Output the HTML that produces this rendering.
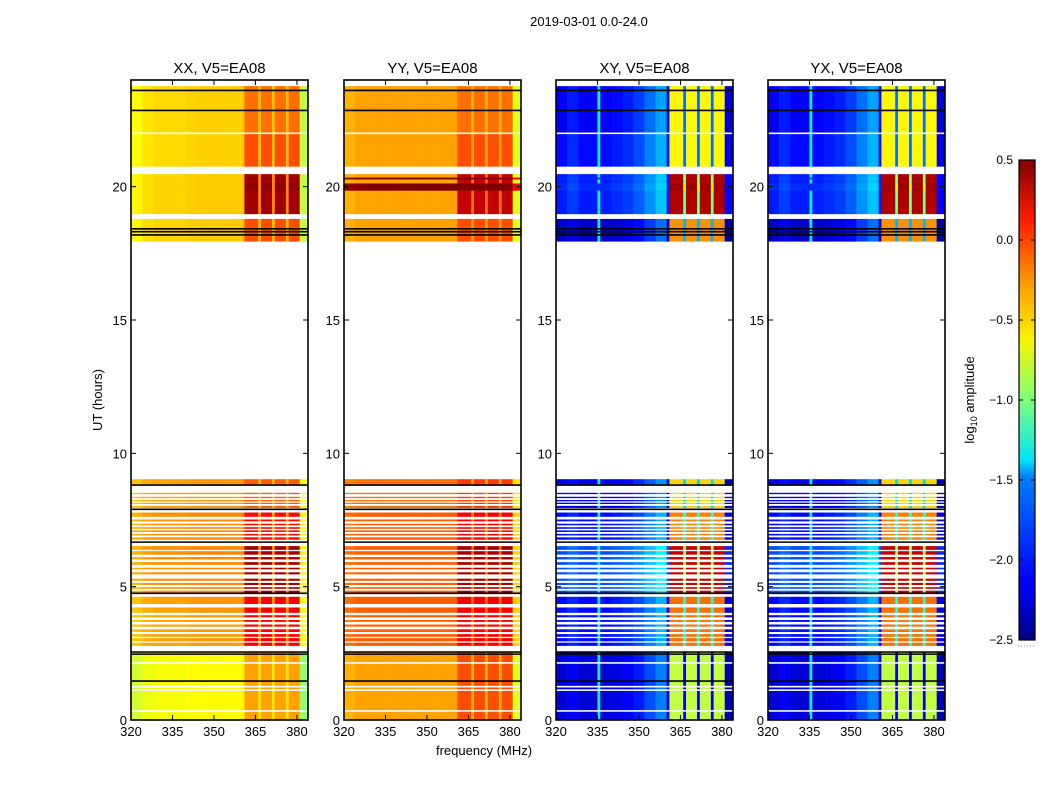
<!DOCTYPE html>
<html><head><meta charset="utf-8"><style>
body{margin:0;background:#fff;width:1050px;height:800px;overflow:hidden;font-family:"Liberation Sans",sans-serif;}
svg text{font-family:"Liberation Sans",sans-serif;fill:#000;}
</style></head><body>
<svg id="fig" width="1050" height="800" viewBox="0 0 1050 800">
<defs>
<linearGradient id="jetg" x1="0" y1="1" x2="0" y2="0">
<stop offset="0" stop-color="#000080"/><stop offset="0.11" stop-color="#0000ff"/><stop offset="0.125" stop-color="#0000ff"/>
<stop offset="0.34" stop-color="#0080ff"/><stop offset="0.375" stop-color="#00e4f8"/><stop offset="0.5" stop-color="#7dff7a"/>
<stop offset="0.625" stop-color="#f8f500"/><stop offset="0.75" stop-color="#ff9400"/><stop offset="0.875" stop-color="#ff1c00"/>
<stop offset="1" stop-color="#800000"/></linearGradient>
</defs>
<text x="589" y="26" font-size="13" text-anchor="middle">2019-03-01 0.0-24.0</text>
<g id="panels"></g>
<text transform="translate(102,400) rotate(-90)" font-size="13" text-anchor="middle">UT (hours)</text>
<text x="484" y="755" font-size="13" text-anchor="middle">frequency (MHz)</text>
<g>
<rect x="1019" y="160" width="16" height="480" fill="url(#jetg)" stroke="#000" stroke-width="1.2"/>
<g id="cbticks"></g>
<text transform="translate(974,400) rotate(-90)" font-size="13" text-anchor="middle">log<tspan font-size="9" dy="3">10</tspan><tspan dy="-3"> amplitude</tspan></text>
<line x1="1018" y1="646" x2="1035" y2="646" stroke="#888" stroke-width="1" stroke-dasharray="1,2"/>
</g>
</svg>
<script>
const panelTitles = ["XX, V5=EA08","YY, V5=EA08","XY, V5=EA08","YX, V5=EA08"];
const xTicks = [320,335,350,365,380];
const yTicks = [0,5,10,15,20];
const cbTicks = [0.5,0.0,-0.5,-1.0,-1.5,-2.0,-2.5];
const cbLabels = ["0.5","0.0","\u22120.5","\u22121.0","\u22121.5","\u22122.0","\u22122.5"];
// time segments [start, end, group]
const segStart = [22.03,20.75,18.97,17.94, 8.81,8.47,8.32,8.20,8.10,7.95, 7.62,7.45,7.30,7.17,7.05,6.92,6.76, 6.38,6.20,6.02,5.82,5.65,5.46,5.22,5.06,4.92,4.77, 4.35,4.02,3.85,3.68,3.50,3.30,3.12,2.95,2.78, 2.17,1.28,1.15,0.37,0.0, 19.85,20.27];
const segEnd   = [23.77,21.97,20.47,18.79, 9.03,8.52,8.37,8.25,8.15,8.03, 7.78,7.52,7.36,7.23,7.11,6.98,6.85, 6.52,6.33,6.11,5.92,5.71,5.54,5.30,5.14,4.98,4.85, 4.62,4.22,3.93,3.75,3.58,3.40,3.22,3.07,2.90, 2.55,2.11,1.22,1.09,0.31, 20.12,20.34];
const segGroup = [0,1,2,3, 5,5,5,5,5,5, 6,6,6,6,6,6,6, 7,7,7,7,7,7,7,7,7,7, 8,8,8,8,8,8,8,8,8, 9,9,9,9,9, 4,4];
// per-panel group values (log10 amplitude)
const baseXX = [-0.52,-0.52,-0.5,-0.5,-0.5,-0.35,-0.3,-0.3,-0.35,-0.65];
const bandXX = [-0.2,-0.1,0.4,-0.1,0.45,-0.15,0.1,0.4,0.15,-0.35];
const gapXX  = [-0.45,-0.45,-0.3,-0.45,-0.3,-0.4,-0.35,-0.3,-0.35,-0.55];
const baseYY = [-0.35,-0.35,-0.35,-0.35,0.5,-0.2,-0.15,-0.15,-0.15,-0.35];
const bandYY = [-0.2,-0.1,0.3,-0.1,0.5,-0.05,0.15,0.4,0.15,-0.1];
const gapYY  = [-0.4,-0.35,-0.2,-0.35,0.5,-0.35,-0.25,-0.15,-0.2,-0.4];
const baseXY = [-2.15,-2.1,-2.05,-2.3,-2.0,-2.2,-2.1,-1.9,-2.1,-2.25];
const bandXY = [-0.6,-0.6,0.35,-0.3,0.4,-0.5,-0.25,0.3,-0.2,-0.8];
const gapXY  = [-1.8,-1.8,-1.0,-1.6,-0.6,-1.5,-1.3,-0.9,-1.3,-2.2];
const baseYX = [-2.15,-2.1,-2.05,-2.3,-2.0,-2.2,-2.1,-1.9,-2.1,-2.25];
const bandYX = [-0.6,-0.6,0.35,-0.3,0.4,-0.5,-0.25,0.3,-0.2,-0.8];
const gapYX  = [-1.8,-1.8,-1.0,-1.6,-0.6,-1.5,-1.3,-0.9,-1.3,-2.2];
// frequency profile deviations, 4 MHz bins 320-384
const profXX = [-0.1,-0.03,0,0,0,0.02,0.03,0.03,0.03,0.03,0.05,0,0,0,-0.05,-0.3];
const profYY = [-0.05,0,0,0,0,0,0,0,0,0,0,0,0,0,-0.05,-0.35];
const profXY = [0,0.1,0,0,0,0.05,0.1,0.2,0.35,0.5,0,0,0,0,0,-0.1];
const profYX = [0,0.1,0,0,0,0.05,0.1,0.2,0.35,0.5,0,0,0,0,0,-0.1];
const bandStart = 361, bandEnd = 381;
const bandGaps = [366,371,376];
const blackLines = [23.61,22.86,18.42,18.31,18.19,8.81,7.90,6.67,4.75,2.55,2.47,1.46];

const bases=[baseXX,baseYY,baseXY,baseYX], bands=[bandXX,bandYY,bandXY,bandYX], gaps=[gapXX,gapYY,gapXY,gapYX], profs=[profXX,profYY,profXY,profYX];
const lefts=[131,344,556,768], W=177, TOP=80, BOT=720;
const NS='http://www.w3.org/2000/svg';
function xs(f,p){return lefts[p]+(f-320)/64*W;}
function ys(t){return BOT-(t/24)*(BOT-TOP);}
function cl(v){return Math.max(0,Math.min(1,v));}
function jet(v){const x=cl((v+2.5)/3);const r=cl(1.5-Math.abs(4*x-3)),g=cl(1.5-Math.abs(4*x-2)),b=cl(1.5-Math.abs(4*x-1));return `rgb(${Math.round(r*255)},${Math.round(g*255)},${Math.round(b*255)})`;}
function mk(tag,attrs,parent){const e=document.createElementNS(NS,tag);for(const k in attrs)e.setAttribute(k,attrs[k]);parent.appendChild(e);return e;}
const root=document.getElementById('panels');
for(let p=0;p<4;p++){
  const g=mk('g',{},root);
  
  
  const hm=mk('g',{},g);
  
  
  for(let s=0;s<segStart.length;s++){
    const grp=segGroup[s];
    const y0=ys(segEnd[s]), y1=ys(segStart[s]);
    for(let f=320;f<384;f++){
      let v;
      const inBand=f>=bandStart&&f<bandEnd;
      if(inBand&&bandGaps.indexOf(f)>=0) v=gaps[p][grp];
      else if(inBand) v=bands[p][grp];
      else v=bases[p][grp]+profs[p][Math.floor((f-320)/4)];
      if(p>=2&&f===335&&grp!==4) v=-1.4;
      const r=mk('rect',{x:xs(f,p).toFixed(2),y:y0.toFixed(2),width:(W/64+0.3).toFixed(2),height:(y1-y0).toFixed(2),fill:jet(v)},hm);
      
      
    }
  }
  for(const t of blackLines){
    const l=mk('line',{x1:lefts[p],x2:lefts[p]+W,y1:ys(t),y2:ys(t),stroke:'#000','stroke-width':1.6},g);
    
    
  }
  const fr=mk('rect',{x:lefts[p],y:TOP,width:W,height:BOT-TOP,fill:'none',stroke:'#000','stroke-width':1.6},g);
  
  
  for(const t of xTicks){
    const x=xs(t,p);
    mk('line',{x1:x,x2:x,y1:BOT,y2:BOT-5,stroke:'#000'},g);
    mk('line',{x1:x,x2:x,y1:TOP,y2:TOP+5,stroke:'#000'},g);
    const tx=mk('text',{x:x,y:BOT+16,'font-size':13,'text-anchor':'middle'},g);tx.textContent=t;
    
    
  }
  for(const t of yTicks){
    const y=ys(t);
    mk('line',{x1:lefts[p],x2:lefts[p]+5,y1:y,y2:y,stroke:'#000'},g);
    mk('line',{x1:lefts[p]+W,x2:lefts[p]+W-5,y1:y,y2:y,stroke:'#000'},g);
    const tx=mk('text',{x:lefts[p]-4,y:y+5,'font-size':13,'text-anchor':'end'},g);tx.textContent=t;
    
    
  }
  const ti=mk('text',{x:lefts[p]+W/2,y:73,'font-size':15,'text-anchor':'middle'},g);ti.textContent=panelTitles[p];
  
  
}
const cb=document.getElementById('cbticks');
cbTicks.forEach((v,i)=>{
  const y=160+(0.5-v)/3*480;
  mk('line',{x1:1019,x2:1023,y1:y,y2:y,stroke:'#000'},cb);
  mk('line',{x1:1031,x2:1035,y1:y,y2:y,stroke:'#000'},cb);
  const t=mk('text',{x:1013,y:y+4,'font-size':12,'text-anchor':'end'},cb);t.textContent=cbLabels[i];
  
  
});
</script>
</body></html>
